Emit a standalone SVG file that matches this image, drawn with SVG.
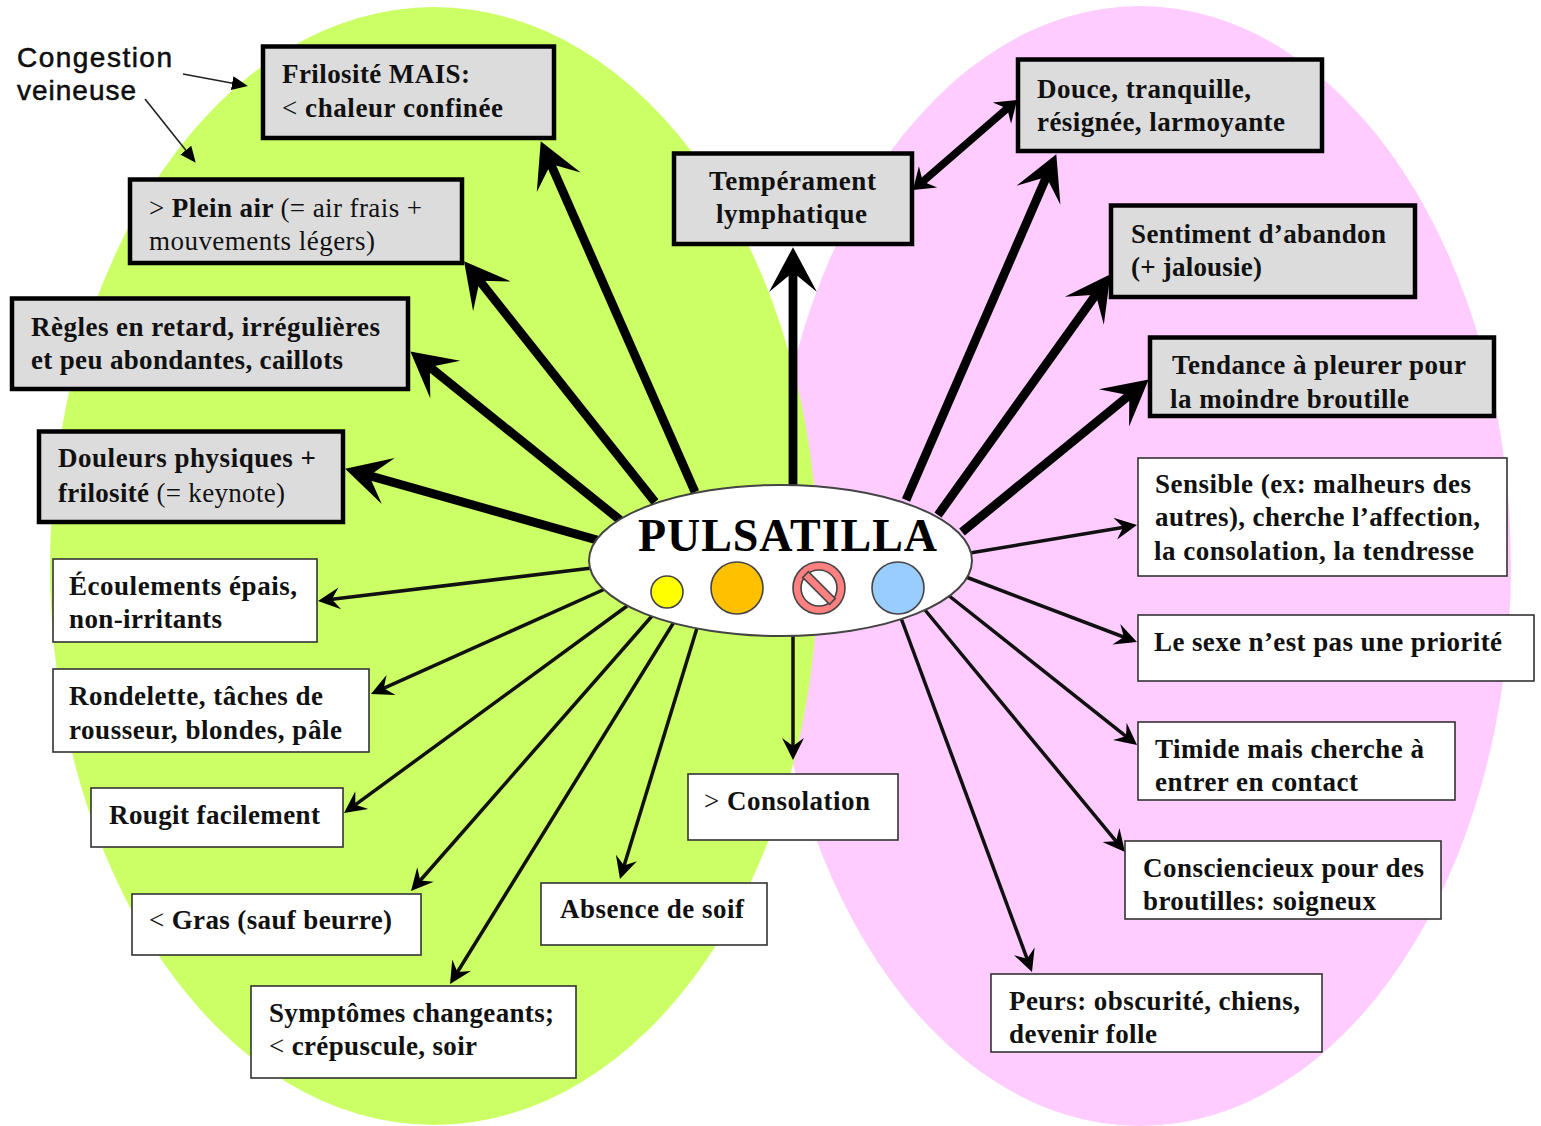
<svg xmlns="http://www.w3.org/2000/svg" width="1541" height="1126" viewBox="0 0 1541 1126">
<style>
text{font-family:"Liberation Serif","Times New Roman",serif;font-size:27px;font-weight:bold;fill:#111}
.n{font-weight:normal}
.sans{font-family:"Liberation Sans",Arial,sans-serif;font-size:28px;font-weight:normal;stroke:#000;stroke-width:.5}
.title{font-size:46px;fill:#000}
.hi{fill:#dcdcdc;stroke:#000;stroke-width:4.5}
.lo{fill:#fff;stroke:#333;stroke-width:1.6}
.thick{stroke:#000;stroke-width:8.8;fill:none;marker-end:url(#big)}
.both{stroke:#000;stroke-width:7.5;fill:none;marker-start:url(#mid);marker-end:url(#mid)}
.thin{stroke:#111;stroke-width:3.5;fill:none;marker-end:url(#small)}
.note{stroke:#222;stroke-width:1.6;fill:none;marker-end:url(#note)}
.disc{stroke:#444;stroke-width:1.6}
</style>
<defs>
<marker id="big" markerUnits="userSpaceOnUse" markerWidth="50" markerHeight="50" viewBox="0 0 44 48" refX="23" refY="24" orient="auto"><path d="M43 24L0 1L19 24L0 47Z" fill="#000"/></marker>
<marker id="mid" markerUnits="userSpaceOnUse" markerWidth="30" markerHeight="30" viewBox="0 0 22 30" refX="12" refY="15" orient="auto-start-reverse"><path d="M20 15L0 1L7 15L0 29Z" fill="#000"/></marker>
<marker id="small" markerUnits="userSpaceOnUse" markerWidth="24" markerHeight="24" viewBox="0 0 23 24" refX="12" refY="12" orient="auto"><path d="M22 12L0 1L8 12L0 23Z" fill="#000"/></marker>
<marker id="note" markerUnits="userSpaceOnUse" markerWidth="18" markerHeight="18" viewBox="0 0 18 18" refX="10" refY="9" orient="auto"><path d="M16 9L0 2L0 16Z" fill="#000"/></marker>
</defs>
<rect width="1541" height="1126" fill="#fff"/>
<g id="backgrounds">
<ellipse cx="1140" cy="566" rx="371" ry="560" fill="#ffccff"/>
<ellipse cx="434" cy="566" rx="384" ry="559" fill="#ccff66"/>
</g>
<g id="connectors">
<line class="thick" x1="695" y1="492" x2="549.1" y2="160.3"/>
<line class="thick" x1="655" y1="502" x2="477" y2="277.5"/>
<line class="thick" x1="620" y1="520" x2="426.6" y2="364.5"/>
<line class="thick" x1="597" y1="540" x2="365.2" y2="474.5"/>
<line class="thick" x1="793" y1="490" x2="793" y2="268"/>
<line class="thick" x1="906" y1="500" x2="1048" y2="173.3"/>
<line class="thick" x1="938" y1="515" x2="1098.3" y2="291.3"/>
<line class="thick" x1="962" y1="532" x2="1132.5" y2="392.7"/>
<line class="both" x1="919" y1="184.8" x2="1011" y2="105.2"/>
<line class="thin" x1="592" y1="568" x2="327.9" y2="599.8"/>
<line class="thin" x1="605" y1="589" x2="380.1" y2="689.9"/>
<line class="thin" x1="627" y1="606" x2="352.1" y2="807.1"/>
<line class="thin" x1="652" y1="616" x2="417.6" y2="883.5"/>
<line class="thin" x1="674" y1="622" x2="455.3" y2="975.5"/>
<line class="thin" x1="697" y1="628" x2="622.9" y2="869.4"/>
<line class="thin" x1="793" y1="632" x2="793" y2="750"/>
<line class="thin" x1="970" y1="553" x2="1127.1" y2="526.7"/>
<line class="thin" x1="966" y1="577" x2="1127.6" y2="638.5"/>
<line class="thin" x1="948" y1="595" x2="1129.2" y2="738.8"/>
<line class="thin" x1="925" y1="610" x2="1118.6" y2="844.3"/>
<line class="thin" x1="901" y1="618" x2="1028.5" y2="962.6"/>
<line class="note" x1="183" y1="74" x2="242" y2="85"/>
<line class="note" x1="145" y1="99" x2="192" y2="158"/>
</g>
<g id="center">
<ellipse cx="780.5" cy="560.5" rx="191.5" ry="75.5" fill="#fff" stroke="#444" stroke-width="2"/>
<text class="title" x="638" y="551" textLength="299">PULSATILLA</text>
<circle class="disc" cx="667" cy="592" r="16" fill="#ffff00"/>
<circle class="disc" cx="737" cy="588" r="26" fill="#ffc000"/>
<circle class="disc" cx="819" cy="588" r="26" fill="#ff8080"/>
<circle class="disc" cx="819" cy="588" r="18" fill="#fff"/>
<rect class="disc" x="-19" y="-4" width="38" height="8" transform="translate(819 588) rotate(45)" fill="#ff8080"/>
<circle class="disc" cx="898" cy="588" r="26" fill="#99ccff"/>
</g>
<g id="congestion">
<text class="sans" x="17" y="67" textLength="155">Congestion</text>
<text class="sans" x="17" y="100" textLength="119">veineuse</text>
</g>
<g id="frilosite"><rect class="hi" x="263" y="46.5" width="291" height="91.5"/>
<text x="282" y="83" textLength="188">Frilosité MAIS:</text>
<text x="282" y="117" textLength="221"><tspan class="n">&lt;</tspan> chaleur confinée</text></g>
<g id="plein-air"><rect class="hi" x="130" y="179.5" width="332" height="83.5"/>
<text x="149" y="217" textLength="273"><tspan class="n">&gt;</tspan> Plein air <tspan class="n">(= air frais +</tspan></text>
<text class="n" x="149" y="250" textLength="226">mouvements légers)</text></g>
<g id="regles"><rect class="hi" x="12" y="298.5" width="396" height="90.5"/>
<text x="31" y="336" textLength="349">Règles en retard, irrégulières</text>
<text x="31" y="369" textLength="312">et peu abondantes, caillots</text></g>
<g id="douleurs"><rect class="hi" x="39" y="431.5" width="304" height="90.5"/>
<text x="58" y="467" textLength="258">Douleurs physiques +</text>
<text x="58" y="502" textLength="227">frilosité <tspan class="n">(= keynote)</tspan></text></g>
<g id="ecoulements"><rect class="lo" x="53" y="559" width="264" height="83"/>
<text x="69" y="595" textLength="228">Écoulements épais,</text>
<text x="69" y="628" textLength="153">non-irritants</text></g>
<g id="rondelette"><rect class="lo" x="53" y="669" width="316" height="83"/>
<text x="69" y="705" textLength="254">Rondelette, tâches de</text>
<text x="69" y="739" textLength="273">rousseur, blondes, pâle</text></g>
<g id="rougit"><rect class="lo" x="91" y="788" width="252" height="59"/>
<text x="109" y="824" textLength="211">Rougit facilement</text></g>
<g id="gras"><rect class="lo" x="132" y="894" width="289" height="61"/>
<text x="149" y="929" textLength="243"><tspan class="n">&lt;</tspan> Gras (sauf beurre)</text></g>
<g id="symptomes"><rect class="lo" x="251" y="986" width="325" height="92"/>
<text x="269" y="1022" textLength="285">Symptômes changeants;</text>
<text x="269" y="1055" textLength="208"><tspan class="n">&lt;</tspan> crépuscule, soir</text></g>
<g id="soif"><rect class="lo" x="541" y="883" width="226" height="62"/>
<text x="560" y="918" textLength="184">Absence de soif</text></g>
<g id="consolation"><rect class="lo" x="688" y="774" width="210" height="66"/>
<text x="704" y="810" textLength="166"><tspan class="n">&gt;</tspan> Consolation</text></g>
<g id="temperament"><rect class="hi" x="674" y="153.5" width="238" height="90.5"/>
<text x="709" y="190" textLength="167">Tempérament</text>
<text x="716" y="223" textLength="151">lymphatique</text></g>
<g id="douce"><rect class="hi" x="1018" y="59.5" width="304" height="91.5"/>
<text x="1037" y="98" textLength="214">Douce, tranquille,</text>
<text x="1037" y="131" textLength="248">résignée, larmoyante</text></g>
<g id="abandon"><rect class="hi" x="1111" y="205.5" width="304" height="91.5"/>
<text x="1131" y="243" textLength="255">Sentiment d’abandon</text>
<text x="1131" y="276" textLength="131">(+ jalousie)</text></g>
<g id="tendance"><rect class="hi" x="1150" y="337.5" width="344" height="78.5"/>
<text x="1172" y="374" textLength="294">Tendance à pleurer pour</text>
<text x="1170" y="408" textLength="239">la moindre broutille</text></g>
<g id="sensible"><rect class="lo" x="1138" y="458" width="369" height="118"/>
<text x="1155" y="493" textLength="316">Sensible (ex: malheurs des</text>
<text x="1155" y="526" textLength="325">autres), cherche l’affection,</text>
<text x="1154" y="560" textLength="320">la consolation, la tendresse</text></g>
<g id="sexe"><rect class="lo" x="1138" y="615" width="396" height="66"/>
<text x="1154" y="651" textLength="348">Le sexe n’est pas une priorité</text></g>
<g id="timide"><rect class="lo" x="1138" y="722" width="317" height="78"/>
<text x="1155" y="758" textLength="269">Timide mais cherche à</text>
<text x="1155" y="791" textLength="203">entrer en contact</text></g>
<g id="consciencieux"><rect class="lo" x="1125" y="841" width="316" height="78"/>
<text x="1143" y="877" textLength="281">Consciencieux pour des</text>
<text x="1143" y="910" textLength="233">broutilles: soigneux</text></g>
<g id="peurs"><rect class="lo" x="991" y="974" width="331" height="78"/>
<text x="1009" y="1010" textLength="291">Peurs: obscurité, chiens,</text>
<text x="1009" y="1043" textLength="148">devenir folle</text></g>
</svg>
